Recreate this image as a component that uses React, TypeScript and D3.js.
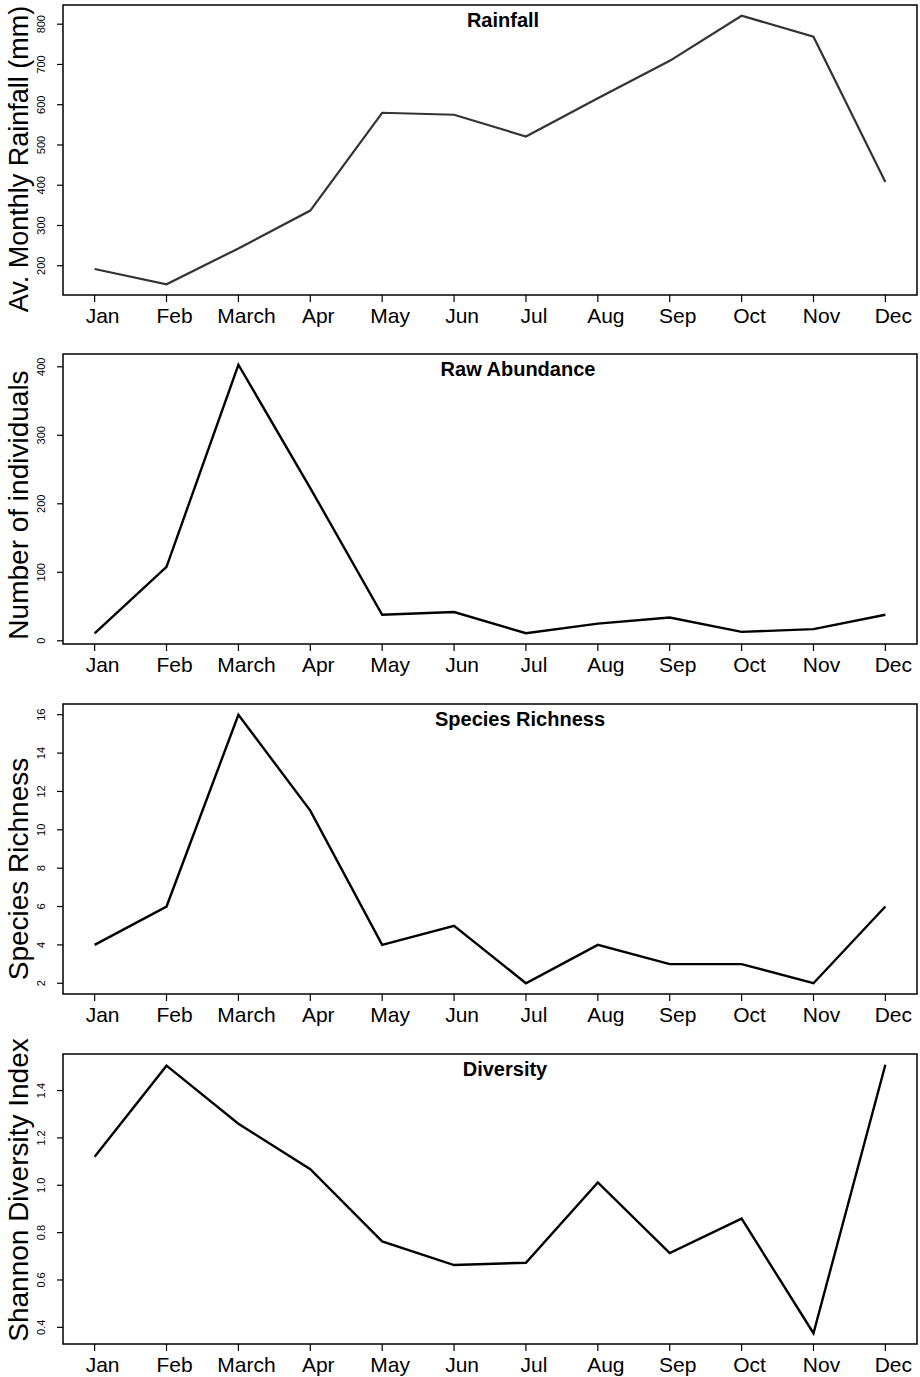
import React from "react";
import * as d3 from "d3";

const months = ["Jan", "Feb", "March", "Apr", "May", "Jun", "Jul", "Aug", "Sep", "Oct", "Nov", "Dec"];

const rainfall = [192, 154, 243, 337, 580, 575, 521, 616, 709, 821, 769, 408];
const abundance = [11, 108, 403, 223, 38, 42, 11, 25, 34, 13, 17, 38];
const richness = [4, 6, 16, 11, 4, 5, 2, 4, 3, 3, 2, 6];
const diversity = [1.12, 1.505, 1.26, 1.068, 0.763, 0.663, 0.673, 1.012, 0.714, 0.859, 0.375, 1.509];

const rainTicks = [200, 300, 400, 500, 600, 700, 800];
const abundTicks = [0, 100, 200, 300, 400];
const richTicks = [2, 4, 6, 8, 10, 12, 14, 16];
const divTicks = [0.4, 0.6, 0.8, 1.0, 1.2, 1.4];

const panels = [
  { title: "Rainfall", ylab: "Av. Monthly Rainfall (mm)", values: rainfall, ticks: rainTicks, fmt: (v: number) => String(v), color: "#333333", lw: 2.2, titleX: 503, labY: 159, labSize: 27 },
  { title: "Raw Abundance", ylab: "Number of individuals", values: abundance, ticks: abundTicks, fmt: (v: number) => String(v), color: "#000000", lw: 2.4, titleX: 518, labY: 505, labSize: 28 },
  { title: "Species Richness", ylab: "Species Richness", values: richness, ticks: richTicks, fmt: (v: number) => String(v), color: "#000000", lw: 2.4, titleX: 520, labY: 869, labSize: 28 },
  { title: "Diversity", ylab: "Shannon Diversity Index", values: diversity, ticks: divTicks, fmt: (v: number) => v.toFixed(1), color: "#000000", lw: 2.4, titleX: 505, labY: 1190, labSize: 28 },
];

const tops = [5, 354, 704, 1054];
const plotH = 290;
const left = 63;
const right = 917;
const FONT = "'Liberation Sans', Arial, Helvetica, sans-serif";

function extend(lo: number, hi: number): [number, number] {
  const p = (hi - lo) * 0.04;
  return [lo - p, hi + p];
}

export default function App() {
  const x = d3.scaleLinear().domain(extend(1, 12)).range([left, right]);
  return (
    <svg width={920} height={1377} style={{ position: "absolute", left: 0, top: 0, background: "#fff" }} fontFamily={FONT}>
      <rect x={0} y={0} width={920} height={1377} fill="#fff" />
      {panels.map((p, pi) => {
        const top = tops[pi];
        const bottom = top + plotH;
        const [lo, hi] = d3.extent(p.values) as [number, number];
        const y = d3.scaleLinear().domain(extend(lo, hi)).range([bottom, top]);
        const line = d3.line<number>().x((_, i) => x(i + 1)).y((v) => y(v));
        return (
          <g key={pi}>
            <path d={line(p.values) || ""} fill="none" stroke={p.color} strokeWidth={p.lw} strokeLinejoin="miter" />
            <rect x={left} y={top} width={right - left} height={plotH} fill="none" stroke="#000" strokeWidth={1.5} />
            {months.map((m, i) => (
              <g key={m}>
                <line x1={x(i + 1)} x2={x(i + 1)} y1={bottom} y2={bottom + 7} stroke="#000" strokeWidth={1.2} />
                <text x={x(i + 1) + 8} y={bottom + 28} textAnchor="middle" fontSize={21}>{m}</text>
              </g>
            ))}
            {p.ticks.map((t) => (
              <g key={t}>
                <line x1={left - 6} x2={left} y1={y(t)} y2={y(t)} stroke="#000" strokeWidth={1.2} />
                <text transform={`translate(${left - 18},${y(t)}) rotate(-90)`} textAnchor="middle" fontSize={11}>{p.fmt(t)}</text>
              </g>
            ))}
            <text transform={`translate(28,${p.labY}) rotate(-90)`} textAnchor="middle" fontSize={p.labSize}>{p.ylab}</text>
            <text x={p.titleX} y={top + 22} textAnchor="middle" fontSize={20} fontWeight="bold">{p.title}</text>
          </g>
        );
      })}
    </svg>
  );
}
